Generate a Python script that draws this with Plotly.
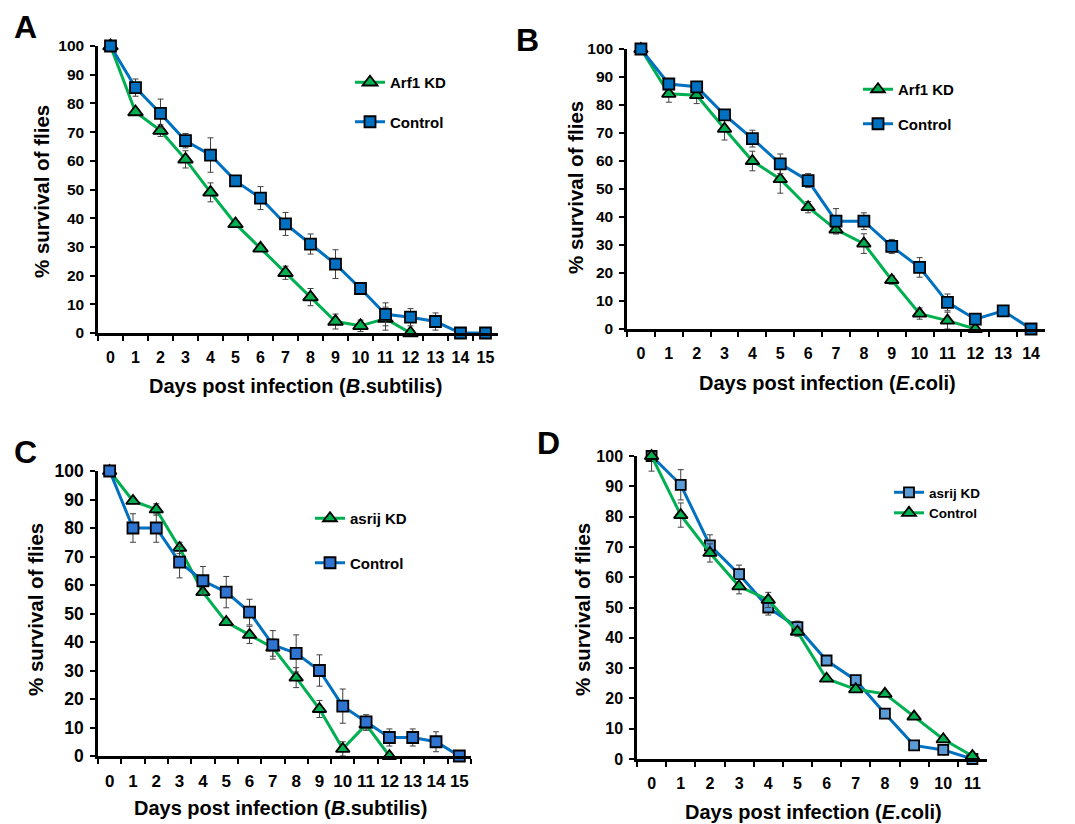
import plotly.graph_objects as go

# the page body has an 8px margin, so the figure is drawn 8px in from the window corner
OFF = 8
W, H = 1075 - OFF, 824 - OFF

GREEN = "#00B050"
BLUE = "#0070C0"
BLUE_LIGHT = "#5B9BD5"
ERR = "#404040"
FONT = "Arial, Liberation Sans, sans-serif"

# Panel A - B.subtilis, Arf1 KD
A_days = list(range(16))
A_arf1 = [100, 77, 70.5, 60.5, 49, 38, 29.5, 21, 12.5, 4, 2.5, 5, 0]
A_arf1_err = [0, 1, 2, 3, 3.3, 1, 1, 2.3, 3, 2.6, 2, 4, 0]
A_ctrl = [100, 85.5, 76.5, 67, 62, 53, 47, 38, 31, 24, 15.5, 6.5, 5.5, 4, 0, 0]
A_ctrl_err = [1, 3, 5, 2.5, 6, 1, 4, 4, 3.5, 5, 2, 4, 3, 3, 0, 0]

# Panel B - E.coli, Arf1 KD
B_days = list(range(15))
B_arf1 = [100, 84, 83.5, 71.5, 60, 53.5, 43.5, 35.5, 30.5, 17.5, 5.5, 3, 0]
B_arf1_err = [0, 3, 3, 4, 3.5, 5, 2, 1.5, 3.5, 1.5, 2, 3, 0]
B_ctrl = [100, 87.5, 86.5, 76.5, 68, 59, 53, 38.5, 38.5, 29.5, 22, 9.5, 3.5, 6.5, 0]
B_ctrl_err = [0, 1, 1, 1.5, 3, 3.5, 2.5, 4.5, 3, 2.5, 3.5, 3, 1, 1, 0]

# Panel C - B.subtilis, asrij KD
C_days = list(range(16))
C_asrij = [100, 89.5, 86.5, 73, 57.5, 47, 42.5, 38, 27.5, 16.5, 2.5, 11, 0]
C_asrij_err = [0, 1, 2, 2, 1, 1, 3, 3, 3.5, 3, 2.5, 2, 0]
C_ctrl = [100, 80, 80, 68, 61.5, 57.5, 50.5, 39, 36, 30, 17.5, 12, 6.5, 6.5, 5, 0]
C_ctrl_err = [0, 5, 5, 5.5, 5, 5.5, 4.5, 5, 6.5, 5.5, 6, 2.5, 3, 3, 3.5, 0]

# Panel D - E.coli, asrij KD
D_days = list(range(12))
D_asrij = [100, 90.5, 70.5, 61, 50, 43.5, 32.5, 26, 15, 4.5, 3, 0]
D_asrij_err = [5, 5, 3.5, 3, 2.5, 2, 0.5, 0.5, 0.5, 0.5, 0.5, 0.5]
D_ctrl = [100, 80.5, 68, 57, 52.5, 42, 26.5, 23, 21.5, 14, 6.5, 1]
D_ctrl_err = [0, 4, 3, 2.5, 2.5, 1.5, 0.5, 0.5, 0.5, 0.5, 0.5, 0.5]


def px(x):
    return (x - OFF) / W


def py(y):
    return 1 - (y - OFF) / H


def series(name, days, vals, errs, color, fill, symbol, size, ax, leg):
    xs = [str(d) for d in days[:len(vals)]]
    return go.Scatter(
        x=xs, y=vals, name=name, mode="lines+markers",
        line=dict(color=color, width=3),
        marker=dict(symbol=symbol, size=size, color=fill,
                    line=dict(color="black", width=1.8)),
        error_y=dict(type="data", array=errs, color=ERR, thickness=1, width=3),
        xaxis="x" + ax, yaxis="y" + ax, legend=leg, legendgroup=name + ax,
        cliponaxis=False,
    )


fig = go.Figure()
fig.add_trace(series("Arf1 KD", A_days, A_arf1, A_arf1_err, GREEN, GREEN, "triangle-up", 13, "", "legend"))
fig.add_trace(series("Control", A_days, A_ctrl, A_ctrl_err, BLUE, BLUE, "square", 11, "", "legend"))
fig.add_trace(series("Arf1 KD", B_days, B_arf1, B_arf1_err, GREEN, GREEN, "triangle-up", 12, "2", "legend2"))
fig.add_trace(series("Control", B_days, B_ctrl, B_ctrl_err, BLUE, BLUE, "square", 11, "2", "legend2"))
fig.add_trace(series("asrij KD", C_days, C_asrij, C_asrij_err, GREEN, GREEN, "triangle-up", 12, "3", "legend3"))
fig.add_trace(series("Control", C_days, C_ctrl, C_ctrl_err, BLUE, "#2F74D0", "square", 11, "3", "legend3"))
fig.add_trace(series("asrij KD", D_days, D_asrij, D_asrij_err, BLUE, BLUE_LIGHT, "square", 10, "4", "legend4"))
fig.add_trace(series("Control", D_days, D_ctrl, D_ctrl_err, GREEN, GREEN, "triangle-up", 12, "4", "legend4"))

panels = [
    # suffix, days, x px, y px, x tick size, y tick size
    ("", A_days, (98, 498), (46, 333), 16, 15.5),
    ("2", B_days, (627, 1045), (49, 329), 16, 15.5),
    ("3", C_days, (98, 471), (471, 756), 17, 17.5),
    ("4", D_days, (637, 987), (456, 759), 16, 16),
]

for sfx, days, (x0, x1), (y0, y1), fx, fy in panels:
    cats = [str(d) for d in days]
    fig.update_layout({
        "xaxis" + sfx: dict(
            domain=[px(x0), px(x1)], anchor="y" + sfx, type="category",
            categoryorder="array", categoryarray=cats,
            range=[-0.5, len(cats) - 0.5], automargin=False, tickangle=0,
            showline=True, linecolor="black", linewidth=2.5,
            ticks="outside", tickson="boundaries", ticklen=5, tickwidth=2,
            tickcolor="black", showgrid=False, zeroline=False, ticklabelstandoff=8,
            tickfont=dict(family=FONT, size=fx, color="black", weight="bold"),
        ),
        "yaxis" + sfx: dict(
            domain=[py(y1), py(y0)], anchor="x" + sfx, range=[0, 100],
            tickmode="array", tickvals=list(range(0, 101, 10)), automargin=False,
            showline=True, linecolor="black", linewidth=2.5,
            ticks="outside", ticklen=5, tickwidth=2, tickcolor="black",
            showgrid=False, zeroline=False, ticklabelstandoff=3,
            tickfont=dict(family=FONT, size=fy, color="black", weight="bold"),
        ),
    })

annotations = []
# panel letters
for txt, x, y in [("A", 25, 27), ("B", 527, 40), ("C", 25, 452), ("D", 548, 443)]:
    annotations.append(dict(text=txt, x=px(x), y=py(y), xref="paper", yref="paper",
                            showarrow=False, xanchor="center", yanchor="middle",
                            font=dict(family=FONT, size=32, color="black", weight="bold")))
# y titles
for x, y in [(42, 192), (575, 188), (35, 610), (582, 610)]:
    annotations.append(dict(text="% survival of flies", x=px(x), y=py(y),
                            xref="paper", yref="paper", showarrow=False, textangle=-90,
                            xanchor="center", yanchor="middle",
                            font=dict(family=FONT, size=20.5, color="black", weight="bold")))
# x titles
for txt, x, y in [("Days post infection (<i>B</i>.subtilis)", 295, 386),
                  ("Days post infection (<i>E</i>.coli)", 827, 383),
                  ("Days post infection (<i>B</i>.subtilis)", 280, 808),
                  ("Days post infection (<i>E</i>.coli)", 813, 812)]:
    annotations.append(dict(text=txt, x=px(x), y=py(y), xref="paper", yref="paper",
                            showarrow=False, xanchor="center", yanchor="middle",
                            font=dict(family=FONT, size=20, color="black", weight="bold")))


def legend_box(x, y, fs, gap):
    return dict(x=px(x), y=py(y), xanchor="left", yanchor="top",
                bgcolor="rgba(0,0,0,0)", borderwidth=0, itemwidth=30,
                tracegroupgap=gap,
                font=dict(family=FONT, size=fs, color="black", weight="bold"))


fig.update_layout(
    width=W, height=H, autosize=False,
    margin=dict(l=0, r=0, t=0, b=0),
    paper_bgcolor="white", plot_bgcolor="white",
    showlegend=True,
    legend=legend_box(350, 66, 15, 17),
    legend2=legend_box(858, 73, 15, 12),
    legend3=legend_box(310, 502, 15, 22),
    legend4=legend_box(889, 477, 13.5, 0),
    annotations=annotations,
)

fig.write_html("out.html")
